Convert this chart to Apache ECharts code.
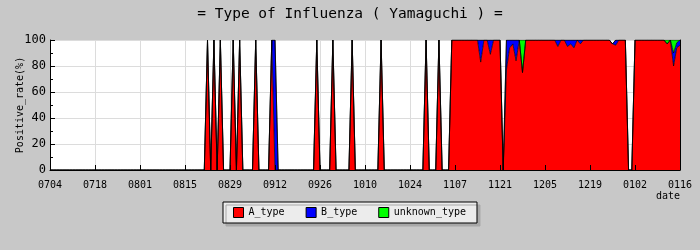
<!DOCTYPE html>
<html>
<head>
<meta charset="utf-8">
<script src="https://cdn.jsdelivr.net/npm/echarts@6/dist/echarts.min.js"></script>
<style>html,body{margin:0;padding:0;background:#c8c8c8;}#c{width:700px;height:250px;}</style>
</head>
<body>
<div id="c"></div>
<script>
var dates = [
'0704','0705','0706','0707','0708','0709','0710','0711','0712','0713','0714','0715','0716','0717','0718','0719','0720','0721','0722','0723','0724','0725','0726','0727','0728','0729','0730','0731',
'0801','0802','0803','0804','0805','0806','0807','0808','0809','0810','0811','0812','0813','0814','0815','0816','0817','0818','0819','0820','0821','0822','0823','0824','0825','0826','0827','0828','0829','0830','0831',
'0901','0902','0903','0904','0905','0906','0907','0908','0909','0910','0911','0912','0913','0914','0915','0916','0917','0918','0919','0920','0921','0922','0923','0924','0925','0926','0927','0928','0929','0930',
'1001','1002','1003','1004','1005','1006','1007','1008','1009','1010','1011','1012','1013','1014','1015','1016','1017','1018','1019','1020','1021','1022','1023','1024','1025','1026','1027','1028','1029','1030','1031',
'1101','1102','1103','1104','1105','1106','1107','1108','1109','1110','1111','1112','1113','1114','1115','1116','1117','1118','1119','1120','1121','1122','1123','1124','1125','1126','1127','1128','1129','1130',
'1201','1202','1203','1204','1205','1206','1207','1208','1209','1210','1211','1212','1213','1214','1215','1216','1217','1218','1219','1220','1221','1222','1223','1224','1225','1226','1227','1228','1229','1230','1231',
'0101','0102','0103','0104','0105','0106','0107','0108','0109','0110','0111','0112','0113','0114','0115','0116'
];
var A_type = [
0,0,0,0,0,0,0,0,0,0,
0,0,0,0,0,0,0,0,0,0,
0,0,0,0,0,0,0,0,0,0,
0,0,0,0,0,0,0,0,0,0,
0,0,0,0,0,0,0,0,0,100,
0,100,0,100,0,0,0,100,0,100,
0,0,0,0,100,0,0,0,0,100,
0,0,0,0,0,0,0,0,0,0,
0,0,0,100,0,0,0,0,100,0,
0,0,0,0,100,0,0,0,0,0,
0,0,0,100,0,0,0,0,0,0,
0,0,0,0,0,0,0,100,0,0,
0,100,0,0,0,100,100,100,100,100,
100,100,100,100,83,100,100,89,100,100,
100,0,77,94,97,84,100,75,100,100,
100,100,100,100,100,100,100,100,95,100,
100,95,97,94,100,97,100,100,100,100,
100,100,100,100,100,97,96,100,100,100,
0,0,100,100,100,100,100,100,100,100,
100,100,97,100,80,94,96
];
var B_type = [
0,0,0,0,0,0,0,0,0,0,
0,0,0,0,0,0,0,0,0,0,
0,0,0,0,0,0,0,0,0,0,
0,0,0,0,0,0,0,0,0,0,
0,0,0,0,0,0,0,0,0,0,
0,0,0,0,0,0,0,0,0,0,
0,0,0,0,0,0,0,0,0,0,
100,0,0,0,0,0,0,0,0,0,
0,0,0,0,0,0,0,0,0,0,
0,0,0,0,0,0,0,0,0,0,
0,0,0,0,0,0,0,0,0,0,
0,0,0,0,0,0,0,0,0,0,
0,0,0,0,0,0,0,0,0,0,
0,0,0,0,17,0,0,11,0,0,
0,0,23,6,3,16,0,0,0,0,
0,0,0,0,0,0,0,0,5,0,
0,5,3,6,0,3,0,0,0,0,
0,0,0,0,0,0,4,0,0,0,
0,0,0,0,0,0,0,0,0,0,
0,0,0,0,10,4,4
];
var unknown_type = [
0,0,0,0,0,0,0,0,0,0,
0,0,0,0,0,0,0,0,0,0,
0,0,0,0,0,0,0,0,0,0,
0,0,0,0,0,0,0,0,0,0,
0,0,0,0,0,0,0,0,0,0,
0,0,0,0,0,0,0,0,0,0,
0,0,0,0,0,0,0,0,0,0,
0,0,0,0,0,0,0,0,0,0,
0,0,0,0,0,0,0,0,0,0,
0,0,0,0,0,0,0,0,0,0,
0,0,0,0,0,0,0,0,0,0,
0,0,0,0,0,0,0,0,0,0,
0,0,0,0,0,0,0,0,0,0,
0,0,0,0,0,0,0,0,0,0,
0,0,0,0,0,0,0,25,0,0,
0,0,0,0,0,0,0,0,0,0,
0,0,0,0,0,0,0,0,0,0,
0,0,0,0,0,0,0,0,0,0,
0,0,0,0,0,0,0,0,0,0,
0,0,3,0,10,2,0
];
var seriesNames = ['A_type','B_type','unknown_type'];
var seriesColors = ['#ff0000','#0000ff','#00ff00'];
var seriesData = [A_type, B_type, unknown_type];

var MONO = 'DejaVu Sans Mono';
var chart = echarts.init(document.getElementById('c'), null, {renderer:'canvas'});
var series = seriesNames.map(function(n, i){
  return {
    name: n, type: 'line', stack: 'total', symbol: 'none', showSymbol: false,
    data: seriesData[i], xAxisIndex: 0, yAxisIndex: 0,
    lineStyle: {color: '#000', width: 0.7},
    itemStyle: {color: seriesColors[i]},
    areaStyle: {color: seriesColors[i], opacity: 1},
    emphasis: {disabled: true}, silent: true
  };
});
chart.setOption({
  animation: false,
  backgroundColor: '#c8c8c8',
  title: {
    text: '= Type of Influenza ( Yamaguchi ) =',
    left: 'center', top: 2,
    textStyle: {fontFamily: MONO, fontSize: 14.5, fontWeight: 'normal', color: '#000'}
  },
  grid: {left: 50, right: 20, top: 40, bottom: 80, show: true, backgroundColor: '#fff', borderWidth: 0},
  legend: {
    left: 223, top: 202, orient: 'horizontal',
    padding: [5, 11, 5, 10], itemGap: 21, itemWidth: 10, itemHeight: 10,
    icon: 'rect',
    backgroundColor: '#ececec', borderColor: '#000', borderWidth: 1,
    shadowColor: '#a8a8a8', shadowBlur: 0, shadowOffsetX: 3, shadowOffsetY: 3,
    itemStyle: {borderColor: '#000', borderWidth: 1},
    textStyle: {fontFamily: MONO, fontSize: 10, color: '#000', lineHeight: 11},
    data: seriesNames
  },
  xAxis: [{
    type: 'category', data: dates, boundaryGap: false, position: 'bottom',
    axisLine: {show: false},
    axisTick: {show: false},
    axisLabel: {interval: 13, fontFamily: MONO, fontSize: 10, color: '#000', margin: 10},
    splitLine: {show: true, interval: 13, lineStyle: {color: '#dcdcdc', width: 1}}
  }, {
    type: 'category', data: dates, boundaryGap: false, position: 'bottom', z: 10,
    axisLine: {show: true, lineStyle: {color: '#000', width: 1}},
    axisTick: {show: true, inside: true, length: 5, interval: 13, lineStyle: {color: '#000'}},
    axisLabel: {show: false},
    splitLine: {show: false}
  }],
  yAxis: [{
    type: 'value', min: 0, max: 100, interval: 20,
    name: 'Positive_rate(%)', nameLocation: 'middle', nameGap: 25, nameMoveOverlap: false,
    nameTextStyle: {fontFamily: MONO, fontSize: 10, color: '#000'},
    axisLine: {show: true, lineStyle: {color: '#000', width: 1}},
    axisTick: {show: true, inside: true, length: 5, lineStyle: {color: '#000'}},
    minorTick: {show: true, splitNumber: 2, length: 3, lineStyle: {color: '#000'}},
    axisLabel: {fontFamily: MONO, fontSize: 12, color: '#000', margin: 4},
    splitLine: {show: true, lineStyle: {color: '#dcdcdc', width: 1}}
  }, {
    type: 'value', min: 0, max: 100, interval: 20, position: 'right',
    axisLine: {show: true, lineStyle: {color: '#000', width: 1}},
    axisTick: {show: false}, axisLabel: {show: false}, splitLine: {show: false}
  }],
  graphic: [{
    type: 'text', right: 20, top: 191,
    style: {text: 'date', font: '10px ' + MONO, fill: '#000'}
  }],
  series: series
});
</script>
</body>
</html>
